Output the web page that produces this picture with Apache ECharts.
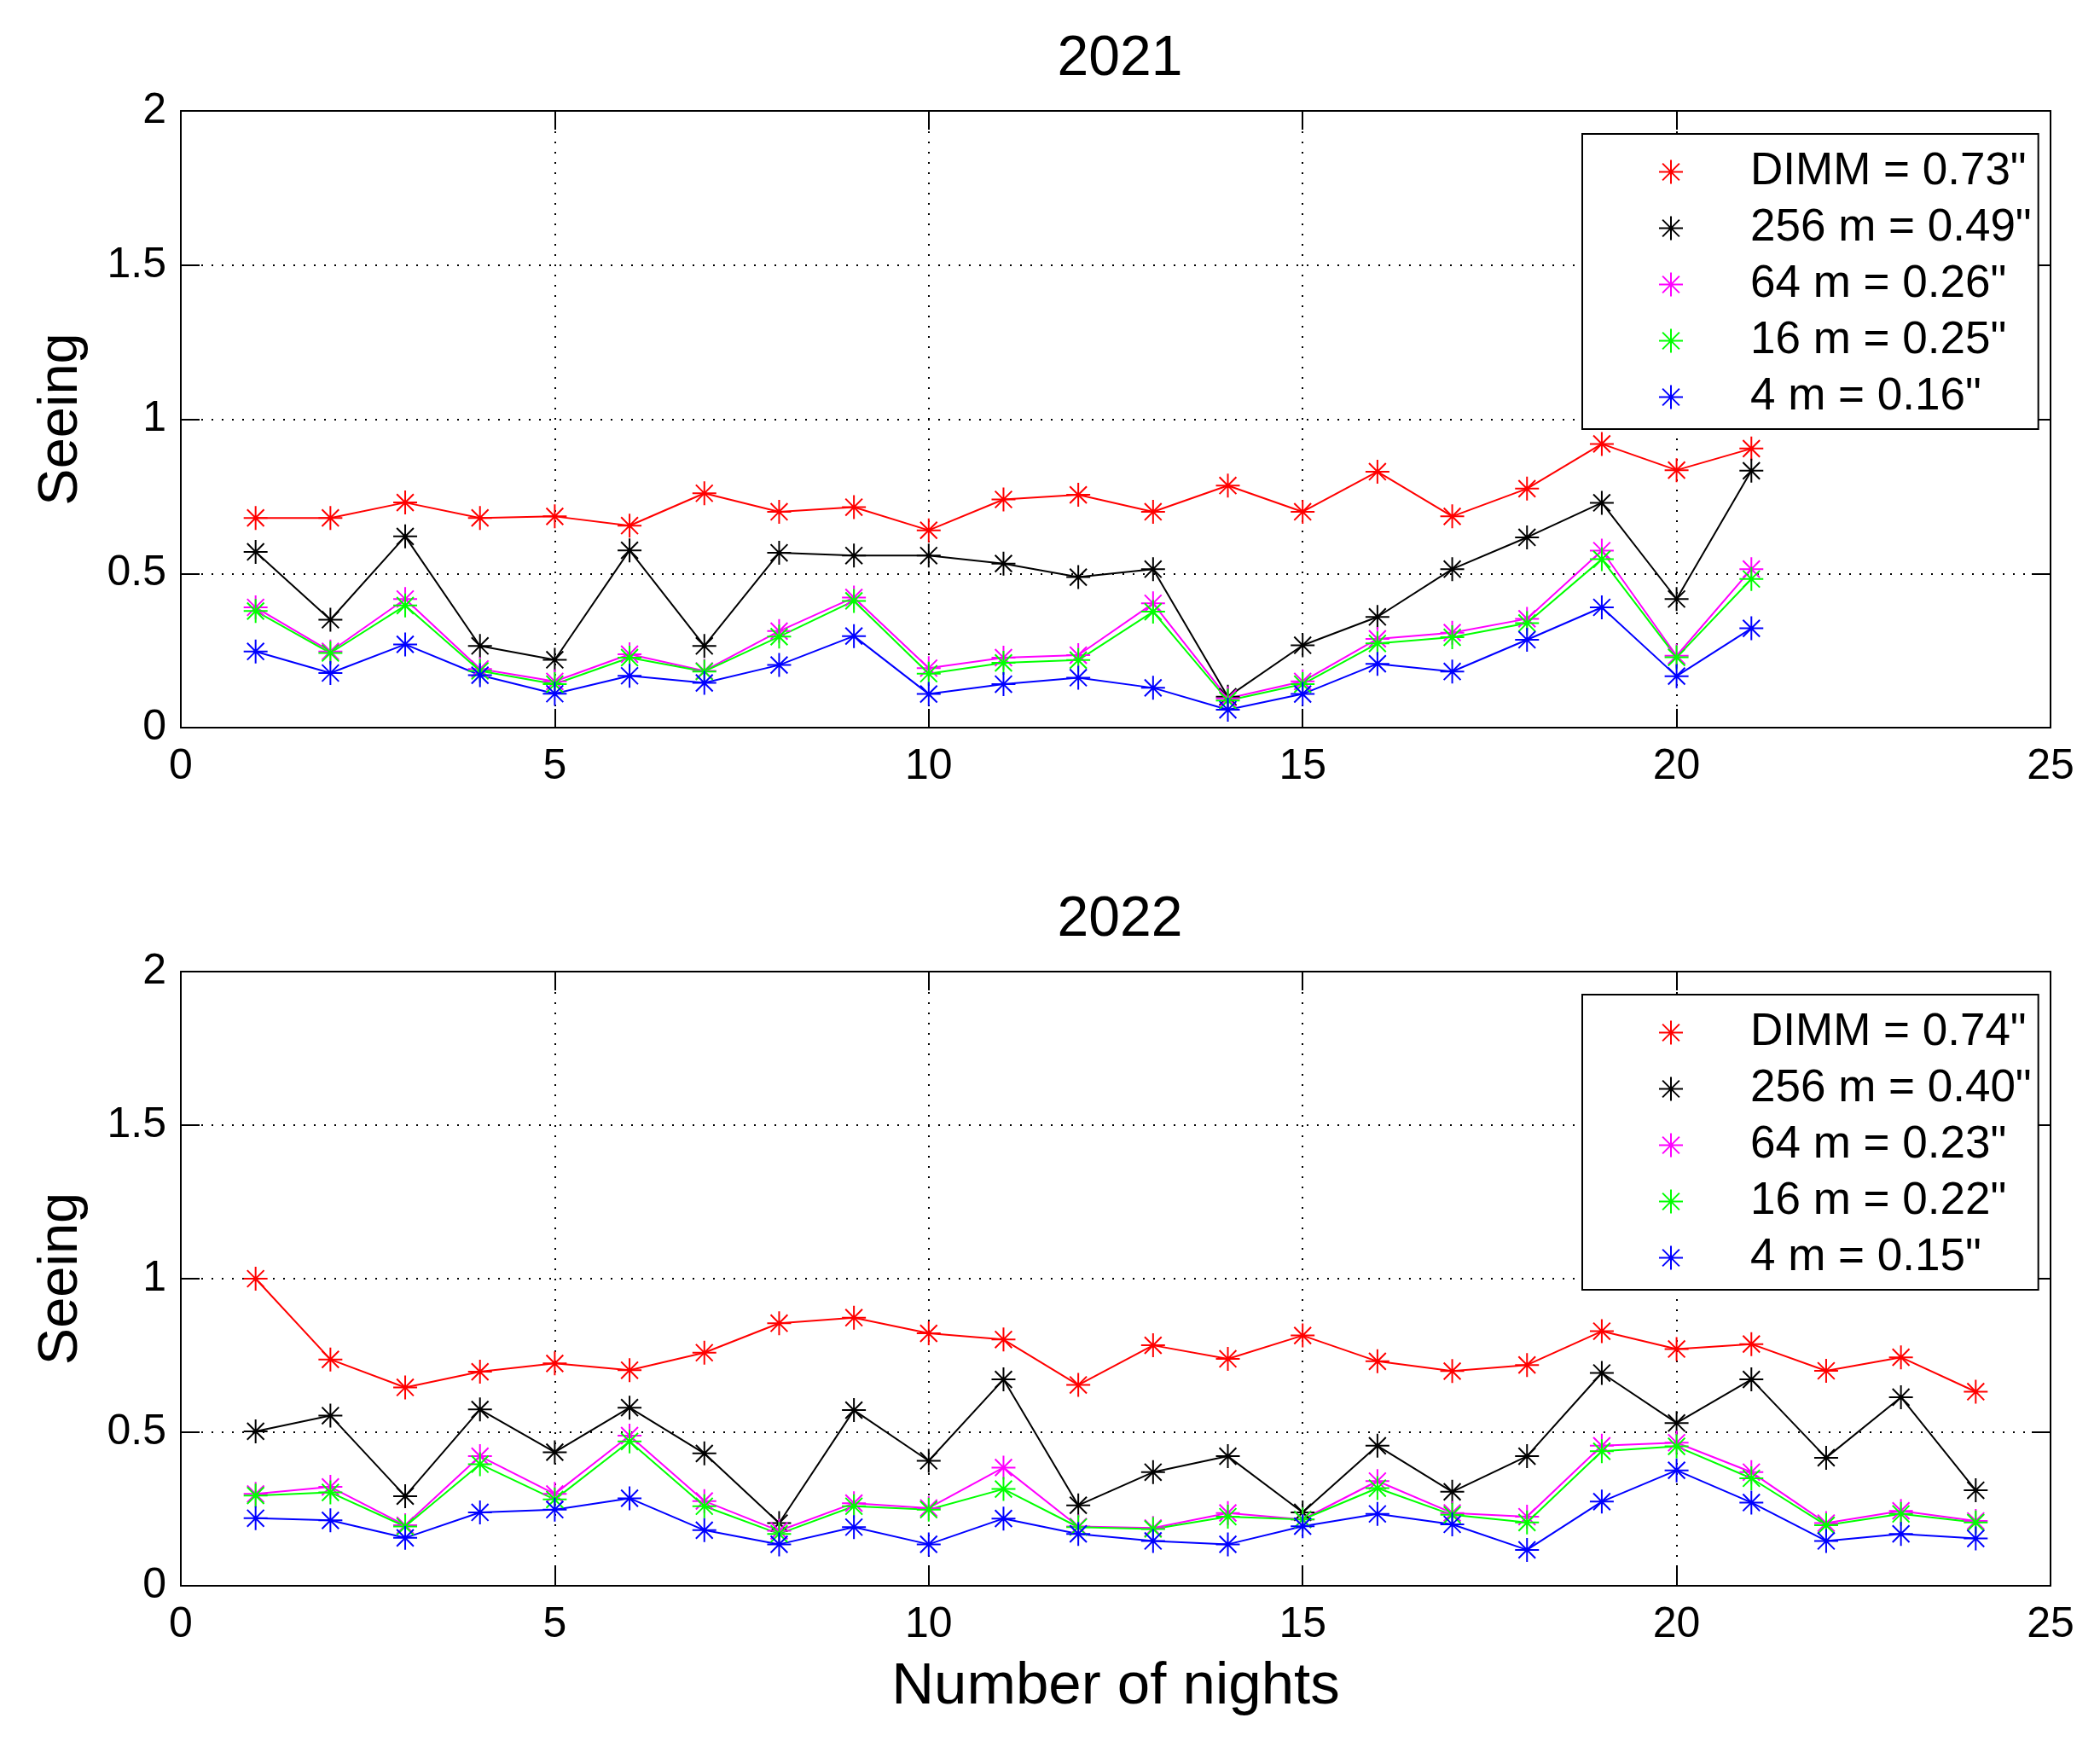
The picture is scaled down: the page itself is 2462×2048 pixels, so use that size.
<!DOCTYPE html>
<html>
<head>
<meta charset="utf-8">
<script src="https://cdn.jsdelivr.net/npm/echarts@6/dist/echarts.min.js"></script>
<style>
html,body{margin:0;padding:0;background:#fff;}
#chart{width:2462px;height:2048px;}
</style>
</head>
<body>
<div id="chart"></div>
<script>
// ---- data ----
const nights2021 = [1,2,3,4,5,6,7,8,9,10,11,12,13,14,15,16,17,18,19,20,21];
const nights2022 = [1,2,3,4,5,6,7,8,9,10,11,12,13,14,15,16,17,18,19,20,21,22,23,24];

const dimm2021 = [0.68,0.68,0.73,0.68,0.685,0.655,0.76,0.70,0.715,0.64,0.74,0.755,0.70,0.785,0.70,0.83,0.685,0.775,0.92,0.835,0.905];
const m256_2021 = [0.57,0.35,0.62,0.265,0.22,0.575,0.265,0.567,0.558,0.558,0.532,0.488,0.514,0.10,0.267,0.359,0.514,0.617,0.729,0.417,0.833];
const m64_2021 = [0.39,0.247,0.417,0.19,0.15,0.238,0.184,0.313,0.422,0.193,0.227,0.235,0.403,0.095,0.15,0.288,0.308,0.353,0.574,0.233,0.514];
const m16_2021 = [0.378,0.242,0.396,0.184,0.141,0.227,0.182,0.295,0.411,0.175,0.21,0.219,0.376,0.088,0.141,0.273,0.293,0.339,0.546,0.228,0.482];
const m4_2021 = [0.247,0.177,0.27,0.17,0.11,0.168,0.145,0.203,0.297,0.109,0.141,0.162,0.129,0.058,0.109,0.207,0.182,0.285,0.39,0.167,0.322];

const dimm2022 = [1.0,0.737,0.646,0.697,0.724,0.702,0.759,0.855,0.873,0.822,0.802,0.654,0.783,0.739,0.815,0.731,0.699,0.719,0.829,0.771,0.787,0.70,0.744,0.632];
const m256_2022 = [0.503,0.554,0.292,0.574,0.435,0.58,0.431,0.204,0.572,0.407,0.672,0.262,0.37,0.422,0.239,0.456,0.306,0.422,0.693,0.53,0.672,0.417,0.614,0.311];
const m64_2022 = [0.299,0.322,0.197,0.422,0.299,0.489,0.276,0.179,0.269,0.253,0.385,0.193,0.188,0.237,0.216,0.341,0.237,0.225,0.456,0.466,0.37,0.204,0.244,0.211];
const m16_2022 = [0.294,0.304,0.193,0.396,0.281,0.47,0.259,0.169,0.259,0.248,0.315,0.191,0.185,0.225,0.216,0.318,0.231,0.206,0.438,0.454,0.35,0.197,0.234,0.206];
const m4_2022 = [0.22,0.213,0.156,0.239,0.248,0.285,0.181,0.135,0.191,0.135,0.219,0.169,0.146,0.135,0.194,0.234,0.2,0.117,0.274,0.376,0.271,0.146,0.169,0.154];

const names2021 = ['DIMM = 0.73"','256 m = 0.49"','64 m = 0.26"','16 m = 0.25"','4 m = 0.16"'];
const names2022 = ['DIMM = 0.74"','256 m = 0.40"','64 m = 0.23"','16 m = 0.22"','4 m = 0.15"'];
const titles = ['2021','2022'];
const seriesColors = ['#ff0000','#000000','#ff00ff','#00ff00','#0000ff'];

// ---- styling ----
const FONT = '"Liberation Sans", Arial, sans-serif';
const STAR = 'path://M0,-10L0,10M-10,0L10,0M-7.07,-7.07L7.07,7.07M-7.07,7.07L7.07,-7.07';
const grids = [
  {left:212, top:130, width:2192, height:723},
  {left:212, top:1139, width:2192, height:720}
];

function pairs(xs, ys){ return xs.map((x,i)=>[x, ys[i]]); }

function mainX(gi, withName){
  return {
    type:'value', gridIndex:gi, min:0, max:25, interval:5, position:'bottom',
    axisLine:{show:true, onZero:false, lineStyle:{color:'#000', width:2}},
    axisTick:{show:true, inside:true, length:22, lineStyle:{color:'#000', width:2}},
    axisLabel:{color:'#000', fontSize:50, fontFamily:FONT, margin:21},
    splitLine:{show:true, lineStyle:{color:'#000', width:2, type:[2,10]}},
    name: withName ? 'Number of nights' : '',
    nameLocation:'middle', nameGap:84,
    nameTextStyle:{color:'#000', fontSize:69, fontFamily:FONT}
  };
}
function topX(gi){
  return {
    type:'value', gridIndex:gi, min:0, max:25, interval:5, position:'top',
    axisLine:{show:true, onZero:false, lineStyle:{color:'#000', width:2}},
    axisTick:{show:true, inside:true, length:22, lineStyle:{color:'#000', width:2}},
    axisLabel:{show:false}, splitLine:{show:false}
  };
}
function mainY(gi){
  return {
    type:'value', gridIndex:gi, min:0, max:2, interval:0.5, position:'left',
    axisLine:{show:true, onZero:false, lineStyle:{color:'#000', width:2}},
    axisTick:{show:true, inside:true, length:22, lineStyle:{color:'#000', width:2}},
    axisLabel:{color:'#000', fontSize:50, fontFamily:FONT, margin:17},
    splitLine:{show:true, lineStyle:{color:'#000', width:2, type:[2,10]}},
    name:'Seeing', nameLocation:'middle', nameGap:107, nameRotate:90,
    nameTextStyle:{color:'#000', fontSize:65, fontFamily:FONT}
  };
}
function rightY(gi){
  return {
    type:'value', gridIndex:gi, min:0, max:2, interval:0.5, position:'right',
    axisLine:{show:true, onZero:false, lineStyle:{color:'#000', width:2}},
    axisTick:{show:true, inside:true, length:22, lineStyle:{color:'#000', width:2}},
    axisLabel:{show:false}, splitLine:{show:false}
  };
}

function mkSeries(name, color, xs, ys, axisIdx){
  return {
    type:'line', name:name, xAxisIndex:axisIdx, yAxisIndex:axisIdx,
    data:pairs(xs, ys),
    symbol:STAR, symbolSize:28, showSymbol:true,
    lineStyle:{color:color, width:2},
    itemStyle:{color:color, borderColor:color, borderWidth:2},
    emphasis:{disabled:true},
    animation:false
  };
}

const vals2021 = [dimm2021, m256_2021, m64_2021, m16_2021, m4_2021];
const vals2022 = [dimm2022, m256_2022, m64_2022, m16_2022, m4_2022];
const series = [];
vals2021.forEach((v,i)=>series.push(mkSeries(names2021[i], seriesColors[i], nights2021, v, 0)));
vals2022.forEach((v,i)=>series.push(mkSeries(names2022[i], seriesColors[i], nights2022, v, 2)));

function mkLegend(names, top){
  return {
    data:names.map(n=>({name:n, icon:STAR})),
    orient:'vertical', left:1855, top:top,
    padding:[18,8,11,89],
    itemWidth:176, itemHeight:28, itemGap:13,
    symbolKeepAspect:true,
    backgroundColor:'#fff', borderColor:'#000', borderWidth:2, borderRadius:0,
    selectedMode:false,
    textStyle:{color:'#000', fontSize:53, fontFamily:FONT}
  };
}

const chart = echarts.init(document.getElementById('chart'), null, {renderer:'canvas'});
chart.setOption({
  backgroundColor:'#fff',
  animation:false,
  title: titles.map((t,i)=>({
    text:t, left:1308, textAlign:'center', top: i===0 ? 32 : 1041,
    textStyle:{color:'#000', fontSize:66, fontWeight:'normal', fontFamily:FONT}
  })),
  grid: grids,
  xAxis:[mainX(0,false), topX(0), mainX(1,true), topX(1)],
  yAxis:[mainY(0), rightY(0), mainY(1), rightY(1)],
  legend:[mkLegend(names2021, 157), mkLegend(names2022, 1166)],
  series: series
});
</script>
</body>
</html>
